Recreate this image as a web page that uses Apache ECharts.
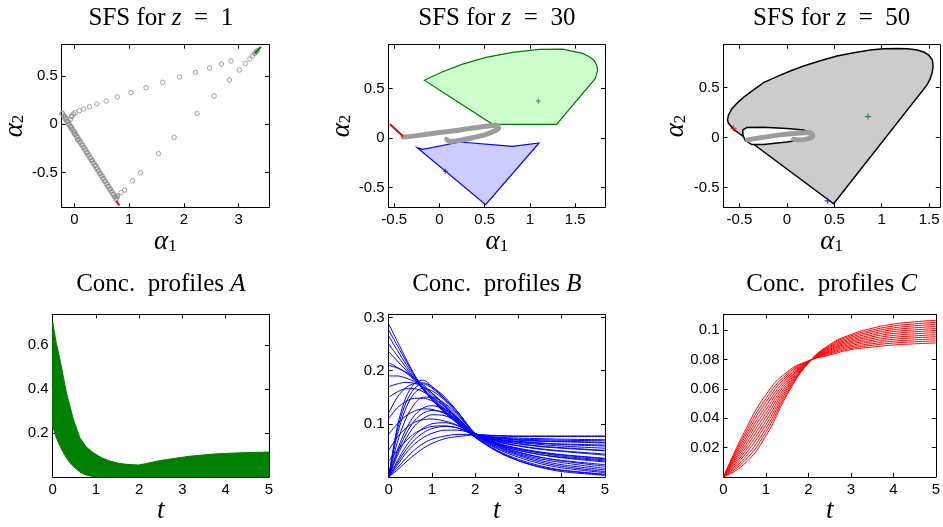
<!DOCTYPE html>
<html>
<head>
<meta charset="utf-8">
<script src="https://cdn.jsdelivr.net/npm/echarts@6/dist/echarts.min.js"></script>
<style>
  html, body { margin: 0; padding: 0; background: #fff; }
  #main { width: 943px; height: 527px; }
</style>
</head>
<body>
<div id="main"></div>
<script>
// ---- SFS for z = 1 : scatter of circles ----
const p1Points = [
  [-0.047,0.080],[0.012,0.121],[0.088,0.142],[0.169,0.159],[0.274,0.183],[0.409,0.211],
  [0.578,0.242],[0.782,0.284],[1.033,0.329],[1.308,0.381],[1.611,0.436],[1.921,0.491],
  [2.213,0.540],[2.469,0.585],[2.685,0.626],[2.860,0.657],
  [3.012,0.564],[3.123,0.633],[3.205,0.678],[3.252,0.709],[3.292,0.737],[3.310,0.745],
  [3.325,0.755],[3.339,0.765],
  [2.831,0.460],[2.551,0.294],[2.242,0.114],[1.821,-0.135],[1.535,-0.304],[1.208,-0.502],
  [1.062,-0.585],[0.917,-0.682],[0.852,-0.709],[0.788,-0.744],[0.775,-0.752],
  [-0.23,0.110],[-0.20,0.083],[-0.17,0.056],[-0.14,0.029],[-0.11,0.002],[-0.08,-0.025],
  [-0.05,-0.052],[-0.02,-0.079],[0.01,-0.106],[0.04,-0.133],[0.07,-0.160],[0.10,-0.187],
  [0.13,-0.214],[0.16,-0.241],[0.19,-0.268],[0.22,-0.295],[0.25,-0.322],[0.28,-0.349],
  [0.31,-0.376],[0.34,-0.403],[0.37,-0.430],[0.40,-0.457],[0.43,-0.484],[0.46,-0.511],
  [0.49,-0.538],[0.52,-0.565],[0.55,-0.592],[0.58,-0.619],[0.61,-0.646],[0.64,-0.673],
  [0.67,-0.700],[0.70,-0.727],[0.73,-0.754],[0.76,-0.781],
  [-0.215,0.112],[-0.185,0.085],[-0.155,0.058],[-0.125,0.031],[-0.095,0.004],[-0.065,-0.023],
  [-0.035,-0.050],[-0.005,-0.077],[0.025,-0.104],[0.055,-0.131],[0.085,-0.158],[0.115,-0.185],
  [0.145,-0.212],[0.175,-0.239],[0.205,-0.266],[0.235,-0.293],[0.265,-0.320],[0.295,-0.347],
  [0.325,-0.374],[0.355,-0.401],[0.385,-0.428],[0.415,-0.455],[0.445,-0.482],[0.475,-0.509],
  [0.505,-0.536],[0.535,-0.563],[0.565,-0.590],[0.595,-0.617],[0.625,-0.644],[0.655,-0.671],
  [0.685,-0.698],[0.715,-0.725],[0.745,-0.752],[0.770,-0.770],
  [-0.076,0.052],[-0.058,0.087],[-0.018,0.107],[-0.163,0.073],[-0.117,0.028],
  [-0.058,-0.031],[0.0,-0.093],[0.058,-0.163]
];
const p1Red = [[0.771,-0.803],[0.812,-0.837]];
const p1Green = [[3.31,0.744],[3.397,0.80]];

// ---- SFS for z = 30 ----
const p2GreenRegion = [
  [-0.168,0.584],[0.035,0.669],[0.256,0.746],[0.514,0.814],[0.808,0.865],[1.103,0.895],
  [1.361,0.898],[1.582,0.854],[1.656,0.821],[1.711,0.780],[1.737,0.736],[1.748,0.686],
  [1.722,0.601],[1.295,0.138],[0.587,0.138]
];
const p2BlueRegion = [
  [-0.245,-0.097],[-0.186,-0.114],[0.227,-0.040],[0.809,-0.084],[1.100,-0.050],[0.510,-0.672]
];
const p2Gray = [
  [-0.400,0.010],[-0.223,0.027],[-0.039,0.051],[0.145,0.071],[0.330,0.095],[0.514,0.118],
  [0.624,0.128],[0.654,0.105],[0.624,0.078],[0.514,0.037],[0.366,0.003],[0.219,-0.024],
  [0.109,-0.034],[0.079,-0.014]
];
const p2Red = [[-0.540,0.135],[-0.407,0.020]];
const p2GreenMark = [[1.092,0.375]];
const p2BlueMark = [[0.064,-0.334]];

// ---- SFS for z = 50 ----
const p3Outer = [
  [0.493,-0.663],[1.478,0.527],[1.506,0.577],[1.531,0.643],[1.542,0.710],[1.535,0.777],
  [1.496,0.827],[1.443,0.857],[1.373,0.877],[1.275,0.890],[1.162,0.893],[1.021,0.890],
  [0.880,0.877],[0.704,0.850],[0.528,0.817],[0.352,0.770],[0.176,0.717],[0.035,0.667],
  [-0.106,0.610],[-0.246,0.550],[-0.352,0.477],[-0.458,0.403],[-0.528,0.343],[-0.581,0.287],
  [-0.616,0.227],[-0.627,0.177],[-0.616,0.143],[-0.563,0.083]
];
const p3Hole = [
  [-0.465,0.077],[-0.422,0.100],[-0.246,0.103],[0.0,0.090],[0.176,0.077],[0.264,0.043],
  [0.246,0.003],[0.158,-0.023],[0.0,-0.045],[-0.246,-0.068],[-0.370,-0.070],[-0.440,-0.030],
  [-0.465,0.027]
];
const p3Gray = [
  [-0.415,-0.023],[-0.246,0.003],[-0.070,0.027],[0.106,0.043],[0.246,0.050],[0.275,0.017],
  [0.218,-0.013],[0.123,-0.023],[0.070,-0.017]
];
const p3RedMark = [[-0.563,0.093]];
const p3GreenMark = [[0.855,0.21]];
const p3BlueMark = [[0.429,-0.633]];

// ---- Conc. profiles A : envelope of the bundle ----
const aUpper = [
  [0,0.704],[0.08,0.61],[0.17,0.531],[0.32,0.38],[0.48,0.26],[0.63,0.177],[0.78,0.135],
  [0.94,0.11],[1.12,0.088],[1.32,0.072],[1.52,0.062],[1.71,0.057],[1.98,0.054],[2.17,0.061],
  [2.4,0.071],[2.63,0.079],[3.17,0.094],[3.79,0.105],[4.4,0.11],[5,0.113]
];
const aLower = [
  [0,0.23],[0.08,0.18],[0.17,0.139],[0.28,0.098],[0.4,0.064],[0.52,0.040],[0.63,0.022],
  [0.75,0.010],[0.86,0.004],[1.0,0],[5,0]
];

// ---- Conc. profiles B ----
const tB = [0, 0.2, 0.4, 0.6, 0.8, 1.0, 1.3, 1.6, 2.0, 2.5, 3, 3.5, 4, 5];
const profilesB = [
  [0.288,0.255,0.222,0.192,0.166,0.145,0.120,0.100,0.074,0.048,0.030,0.018,0.010,0.003],
  [0.276,0.247,0.218,0.190,0.165,0.145,0.121,0.100,0.075,0.049,0.031,0.019,0.012,0.004],
  [0.265,0.238,0.212,0.187,0.164,0.146,0.122,0.101,0.075,0.050,0.033,0.021,0.013,0.005],
  [0.250,0.228,0.206,0.184,0.164,0.146,0.123,0.102,0.076,0.053,0.037,0.025,0.017,0.008],
  [0.236,0.218,0.201,0.183,0.165,0.148,0.125,0.103,0.077,0.055,0.040,0.028,0.020,0.010],
  [0.215,0.206,0.196,0.182,0.167,0.151,0.127,0.105,0.078,0.057,0.042,0.031,0.023,0.013],
  [0.210,0.205,0.197,0.186,0.173,0.158,0.134,0.110,0.079,0.058,0.044,0.034,0.027,0.016],
  [0.190,0.190,0.186,0.179,0.169,0.155,0.131,0.108,0.079,0.060,0.047,0.037,0.030,0.020],
  [0.120,0.150,0.168,0.176,0.177,0.170,0.150,0.122,0.082,0.060,0.046,0.037,0.031,0.023],
  [0,0.095,0.150,0.176,0.182,0.170,0.147,0.122,0.082,0.062,0.050,0.042,0.036,0.028],
  [0.170,0.175,0.178,0.176,0.170,0.158,0.136,0.112,0.080,0.061,0.050,0.042,0.037,0.030],
  [0,0.088,0.140,0.167,0.175,0.167,0.146,0.121,0.082,0.063,0.052,0.045,0.039,0.032],
  [0,0.080,0.130,0.158,0.167,0.162,0.144,0.118,0.082,0.064,0.054,0.047,0.042,0.035],
  [0.150,0.160,0.166,0.166,0.160,0.150,0.132,0.110,0.081,0.063,0.053,0.046,0.041,0.034],
  [0.110,0.130,0.142,0.148,0.148,0.143,0.128,0.108,0.081,0.066,0.058,0.052,0.048,0.041],
  [0,0.065,0.110,0.138,0.150,0.150,0.138,0.116,0.082,0.067,0.059,0.053,0.049,0.043],
  [0.080,0.100,0.115,0.124,0.128,0.127,0.119,0.105,0.081,0.068,0.062,0.057,0.054,0.049],
  [0,0.050,0.090,0.116,0.130,0.134,0.127,0.110,0.081,0.069,0.063,0.058,0.055,0.050],
  [0,0.045,0.081,0.106,0.120,0.125,0.121,0.107,0.081,0.070,0.065,0.061,0.058,0.054],
  [0,0.040,0.072,0.096,0.110,0.117,0.115,0.103,0.081,0.071,0.066,0.063,0.061,0.058],
  [0.050,0.075,0.092,0.103,0.108,0.109,0.105,0.097,0.080,0.071,0.067,0.064,0.062,0.060],
  [0.030,0.050,0.068,0.082,0.090,0.095,0.096,0.092,0.080,0.073,0.069,0.067,0.066,0.064],
  [0,0.030,0.058,0.078,0.092,0.100,0.102,0.096,0.080,0.073,0.070,0.068,0.067,0.065],
  [0,0.026,0.051,0.070,0.083,0.091,0.095,0.092,0.080,0.074,0.071,0.070,0.069,0.068],
  [0,0.022,0.045,0.062,0.074,0.082,0.088,0.088,0.080,0.075,0.073,0.072,0.071,0.070],
  [0,0.017,0.035,0.051,0.063,0.071,0.077,0.080,0.080,0.077,0.076,0.076,0.076,0.076],
  [0,0.013,0.028,0.042,0.054,0.063,0.072,0.076,0.079,0.078,0.077,0.077,0.077,0.077]
];

// ---- Conc. profiles C ----
const tC = [0, 0.5, 1, 1.5, 2, 2.5, 3, 3.5, 4, 4.5, 5];
const profilesC = [
  [0,0.031,0.0560,0.0715,0.0790,0.0830,0.0866,0.0884,0.0898,0.0906,0.0912],
  [0,0.029,0.0534,0.0701,0.0789,0.0836,0.0875,0.0896,0.0911,0.0920,0.0926],
  [0,0.027,0.0509,0.0687,0.0788,0.0843,0.0885,0.0907,0.0924,0.0933,0.0940],
  [0,0.025,0.0483,0.0673,0.0786,0.0849,0.0894,0.0919,0.0937,0.0947,0.0954],
  [0,0.023,0.0458,0.0659,0.0785,0.0856,0.0903,0.0930,0.0950,0.0960,0.0968],
  [0,0.021,0.0432,0.0645,0.0784,0.0862,0.0913,0.0942,0.0963,0.0974,0.0982],
  [0,0.019,0.0407,0.0630,0.0782,0.0868,0.0922,0.0954,0.0976,0.0988,0.0996],
  [0,0.017,0.0381,0.0616,0.0781,0.0875,0.0931,0.0965,0.0989,0.1001,0.1010],
  [0,0.015,0.0356,0.0602,0.0779,0.0881,0.0941,0.0977,0.1002,0.1015,0.1024],
  [0,0.013,0.0330,0.0588,0.0778,0.0887,0.0950,0.0989,0.1014,0.1029,0.1038],
  [0,0.011,0.0305,0.0574,0.0776,0.0894,0.0960,0.1000,0.1027,0.1042,0.1052],
  [0,0.009,0.0280,0.0560,0.0775,0.0900,0.0969,0.1012,0.1040,0.1056,0.1066]
];

// axis ranges and ticks per panel
const xRanges = [[-0.233,3.555],[-0.561,1.829],[-0.669,1.613],[0,5],[0,5],[0,5]];
const yRanges = [[-0.862,0.827],[-0.699,0.942],[-0.698,0.93],[0,0.739],[0,0.306],[0,0.1107]];
const xTicks = [[0,1,2,3],[-0.5,0,0.5,1,1.5],[-0.5,0,0.5,1,1.5],[0,1,2,3,4,5],[0,1,2,3,4,5],[0,1,2,3,4,5]];
const yTicks = [[-0.5,0,0.5],[-0.5,0,0.5],[-0.5,0,0.5],[0.2,0.4,0.6],[0.1,0.2,0.3],[0.02,0.04,0.06,0.08,0.1]];
const titles = [
  '{n|SFS for }{i|z}{n|  =  1}', '{n|SFS for }{i|z}{n|  =  30}', '{n|SFS for }{i|z}{n|  =  50}',
  '{n|Conc.  profiles }{i|A}', '{n|Conc.  profiles }{i|B}', '{n|Conc.  profiles }{i|C}'
];

const lefts = [52.7, 388.7, 723.5];
const tops = [44.7, 314.3];
const W = 216.3, H = 162.6;

const serif = "'Liberation Serif', 'Times New Roman', serif";
const sans = "'Liberation Sans', Arial, sans-serif";
const richName = {
  a: { fontFamily: serif, fontStyle: 'italic', fontSize: 27, color: '#000' },
  s: { fontFamily: serif, fontSize: 17, color: '#000', padding: [9, 0, 0, 0] }
};
const crossPath = 'path://M4,0H6V4H10V6H6V10H4V6H0V4H4Z';

let grids = [], xAxes = [], yAxes = [], series = [], graphics = [];

for (let g = 0; g < 6; g++) {
  const left = lefts[g % 3], top = tops[Math.floor(g / 3)];
  grids.push({ left: left, top: top, width: W, height: H, show: false });
  const top3 = g < 3;
  const tick = (vals) => ({ show: true, inside: true, length: 4, customValues: vals, lineStyle: { color: '#000', width: 1 } });
  const line = { show: true, onZero: false, lineStyle: { color: '#000', width: 1 } };
  xAxes.push({
    type: 'value', gridIndex: g, position: 'bottom', min: xRanges[g][0], max: xRanges[g][1],
    axisLine: line, axisTick: tick(xTicks[g]), splitLine: { show: false },
    axisLabel: { customValues: xTicks[g], margin: 5, color: '#000', fontSize: 15, fontFamily: sans, formatter: (v) => String(v) },
    name: top3 ? '{a|α}{s|1}' : '{a|t}', nameLocation: 'middle', nameGap: top3 ? 20 : 16,
    nameTextStyle: { rich: richName }
  });
  xAxes.push({
    type: 'value', gridIndex: g, position: 'top', min: xRanges[g][0], max: xRanges[g][1],
    axisLine: line, axisTick: tick(xTicks[g]), axisLabel: { show: false }, splitLine: { show: false }
  });
  yAxes.push({
    type: 'value', gridIndex: g, position: 'left', min: yRanges[g][0], max: yRanges[g][1],
    axisLine: line, axisTick: tick(yTicks[g]), splitLine: { show: false },
    axisLabel: { customValues: yTicks[g], margin: 4, color: '#000', fontSize: 15, fontFamily: sans, formatter: (v) => String(v) },
    name: top3 ? '{a|α}{s|2}' : '', nameLocation: 'middle', nameRotate: 90, nameGap: 31,
    nameTextStyle: { rich: richName }
  });
  yAxes.push({
    type: 'value', gridIndex: g, position: 'right', min: yRanges[g][0], max: yRanges[g][1],
    axisLine: line, axisTick: tick(yTicks[g]), axisLabel: { show: false }, splitLine: { show: false }
  });
  graphics.push({
    type: 'text', x: left + W / 2, y: top3 ? 18.5 : 284,
    style: {
      text: titles[g], align: 'center', verticalAlign: 'middle', fill: '#000',
      rich: {
        n: { fontFamily: serif, fontSize: 25, color: '#000' },
        i: { fontFamily: serif, fontStyle: 'italic', fontSize: 25, color: '#000' }
      }
    }
  });
}

function polygon(g, pts, fill, stroke, lw, z) {
  return {
    type: 'custom', coordinateSystem: 'cartesian2d', xAxisIndex: 2 * g, yAxisIndex: 2 * g,
    data: [pts[0]], silent: true, z: z,
    renderItem: (params, api) => ({
      type: 'polygon',
      shape: { points: pts.map((p) => api.coord(p)) },
      style: { fill: fill, stroke: stroke, lineWidth: lw }
    })
  };
}
function path(g, pts, color, width, z) {
  return {
    type: 'line', xAxisIndex: 2 * g, yAxisIndex: 2 * g, data: pts, showSymbol: false,
    smooth: 0.3, lineStyle: { color: color, width: width, cap: 'round', join: 'round' }, z: z, silent: true
  };
}
function mark(g, pts, color, size) {
  return {
    type: 'scatter', xAxisIndex: 2 * g, yAxisIndex: 2 * g, data: pts, symbol: crossPath,
    symbolSize: size || 6, itemStyle: { color: color }, z: 10, silent: true
  };
}

// panel 1
series.push({
  type: 'scatter', xAxisIndex: 0, yAxisIndex: 0, data: p1Points, symbol: 'circle', symbolSize: 4.5,
  itemStyle: { color: 'rgba(0,0,0,0)', borderColor: '#8c8c8c', borderWidth: 1 }, silent: true
});
series.push(path(0, p1Red, '#ff0000', 2, 5));
series.push(path(0, p1Green, '#008000', 2, 5));

// panel 2
series.push(polygon(1, p2GreenRegion, '#ccffcc', '#007a00', 1.2, 1));
series.push(polygon(1, p2BlueRegion, '#ccccff', '#0000ff', 1.2, 1));
series.push(path(1, p2Gray, '#9c9c9c', 5, 3));
series.push(path(1, p2Red, '#ff0000', 2, 4));
series.push(mark(1, p2GreenMark, '#008000', 5));
series.push(mark(1, p2BlueMark, '#0000ff', 5));

// panel 3
series.push(polygon(2, p3Outer, '#cccccc', '#000', 1.5, 1));
series.push(polygon(2, p3Hole, '#ffffff', '#000', 1.5, 2));
series.push(path(2, p3Gray, '#9c9c9c', 5, 3));
series.push(mark(2, p3RedMark, '#ff0000', 6));
series.push(mark(2, p3GreenMark, '#008000', 6));
series.push(mark(2, p3BlueMark, '#0000ff', 6));

// panel A
series.push(polygon(3, aUpper.concat(aLower.slice().reverse()), '#008000', '#008000', 1, 1));

// panel B
profilesB.forEach((vals) => {
  series.push({
    type: 'line', xAxisIndex: 8, yAxisIndex: 8, data: tB.map((t, j) => [t, vals[j]]),
    showSymbol: false, smooth: 0.3, silent: true,
    lineStyle: { color: '#0000ff', width: 1 }
  });
});

// panel C
profilesC.forEach((vals) => {
  series.push({
    type: 'line', xAxisIndex: 10, yAxisIndex: 10, data: tC.map((t, j) => [t, vals[j]]),
    showSymbol: false, smooth: 0.5, silent: true,
    lineStyle: { color: '#ff0000', width: 1 }
  });
});

const chart = echarts.init(document.getElementById('main'));
chart.setOption({
  animation: false,
  backgroundColor: '#fff',
  grid: grids,
  xAxis: xAxes,
  yAxis: yAxes,
  series: series,
  graphic: graphics
});
</script>
</body>
</html>
